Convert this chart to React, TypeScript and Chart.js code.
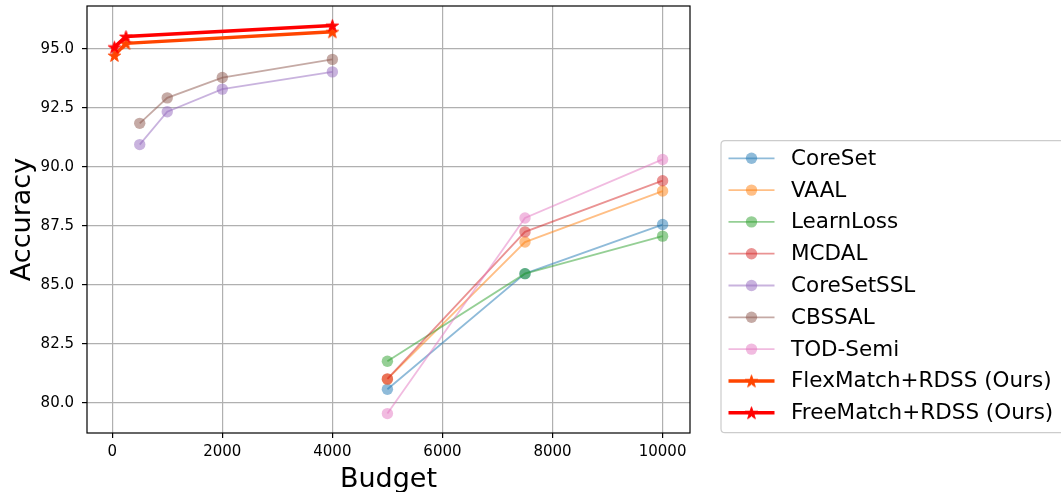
import React, { useEffect, useRef } from "react";
import { Chart, registerables } from "chart.js";

Chart.register(...registerables);

// ---------- data ----------
const seriesNames = [
  "CoreSet",
  "VAAL",
  "LearnLoss",
  "MCDAL",
  "CoreSetSSL",
  "CBSSAL",
  "TOD-Semi",
  "FlexMatch+RDSS (Ours)",
  "FreeMatch+RDSS (Ours)",
];
const alBudgets = [5000, 7500, 10000];
const sslBudgets = [500, 1000, 2000, 4000];
const oursBudgets = [40, 250, 4000];

const coreSet = [80.57, 85.47, 87.55];
const vaal = [81.0, 86.81, 88.97];
const learnLoss = [81.76, 85.47, 87.06];
const mcdal = [81.01, 87.24, 89.41];
const coreSetSSL = [90.94, 92.33, 93.29, 94.02];
const cbssal = [91.84, 92.92, 93.78, 94.55];
const todSemi = [79.54, 87.83, 90.31];
const flexMatch = [94.72, 95.23, 95.72];
const freeMatch = [95.07, 95.52, 95.99];

const xTicks = [0, 2000, 4000, 6000, 8000, 10000];
const yTicks = [80, 82.5, 85, 87.5, 90, 92.5, 95];

const seriesX = [alBudgets, alBudgets, alBudgets, alBudgets, sslBudgets, sslBudgets, alBudgets, oursBudgets, oursBudgets];
const seriesY = [coreSet, vaal, learnLoss, mcdal, coreSetSSL, cbssal, todSemi, flexMatch, freeMatch];

// ---------- styles ----------
const palette = ["#1f77b4", "#ff7f0e", "#2ca02c", "#d62728", "#9467bd", "#8c564b", "#e377c2", "#ff4500", "#ff0000"];
const isOurs = [false, false, false, false, false, false, false, true, true];
const FONT = "'DejaVu Sans', 'Liberation Sans', sans-serif";

function rgba(hex: string, a: number) {
  const n = parseInt(hex.slice(1), 16);
  return `rgba(${(n >> 16) & 255},${(n >> 8) & 255},${n & 255},${a})`;
}

function makeStar(color: string, outer: number) {
  const size = Math.ceil(outer * 2 + 4);
  const c = document.createElement("canvas");
  c.width = size;
  c.height = size;
  const g = c.getContext("2d")!;
  const cx = size / 2, cy = size / 2 + outer * 0.1;
  const inner = outer * 0.382;
  g.beginPath();
  for (let i = 0; i < 10; i++) {
    const r = i % 2 === 0 ? outer : inner;
    const ang = -Math.PI / 2 + (i * Math.PI) / 5;
    const px = cx + r * Math.cos(ang);
    const py = cy + r * Math.sin(ang);
    if (i === 0) g.moveTo(px, py);
    else g.lineTo(px, py);
  }
  g.closePath();
  g.fillStyle = color;
  g.fill();
  g.strokeStyle = color;
  g.lineWidth = 1;
  g.stroke();
  return c;
}

function padRange(values: number[], frac: number) {
  const mn = Math.min(...values), mx = Math.max(...values);
  const m = (mx - mn) * frac;
  return [mn - m, mx + m];
}

export default function App() {
  const ref = useRef<HTMLCanvasElement | null>(null);

  useEffect(() => {
    if (!ref.current) return;
    const stars = palette.map((c, i) => (isOurs[i] ? makeStar(c, 6.5) : null));

    const datasets = seriesNames.map((name, i) => {
      const ours = isOurs[i];
      const col = palette[i];
      return {
        label: name,
        data: seriesX[i].map((x, j) => ({ x, y: seriesY[i][j] })),
        borderColor: ours ? col : rgba(col, 0.5),
        backgroundColor: ours ? col : rgba(col, 0.5),
        borderWidth: ours ? 3.5 : 1.8,
        pointRadius: ours ? 6 : 5.7,
        pointBorderWidth: 0,
        pointBackgroundColor: ours ? col : rgba(col, 0.5),
        pointStyle: ours ? (stars[i] as any) : "circle",
        tension: 0,
        order: seriesNames.length - i,
      };
    });

    const [xMin, xMax] = padRange(seriesX.flat(), 0.05);
    const [yMin, yMax] = padRange(seriesY.flat(), 0.05);

    const overlay = {
      id: "overlay",
      afterDraw(chart: any) {
        const { ctx, chartArea: a } = chart;
        ctx.save();
        ctx.strokeStyle = "#000";
        ctx.lineWidth = 1.2;
        ctx.strokeRect(a.left, a.top, a.right - a.left, a.bottom - a.top);

        ctx.fillStyle = "#000";
        ctx.font = `27px ${FONT}`;
        ctx.textAlign = "center";
        ctx.textBaseline = "alphabetic";
        ctx.fillText("Budget", (a.left + a.right) / 2, 487);
        ctx.save();
        ctx.translate(29.5, (a.top + a.bottom) / 2);
        ctx.rotate(-Math.PI / 2);
        ctx.fillText("Accuracy", 0, 0);
        ctx.restore();

        // legend
        const bx = 721, by = 140.7, bw = 360, bh = 292, r = 4;
        ctx.beginPath();
        ctx.moveTo(bx + r, by);
        ctx.lineTo(bx + bw - r, by);
        ctx.quadraticCurveTo(bx + bw, by, bx + bw, by + r);
        ctx.lineTo(bx + bw, by + bh - r);
        ctx.quadraticCurveTo(bx + bw, by + bh, bx + bw - r, by + bh);
        ctx.lineTo(bx + r, by + bh);
        ctx.quadraticCurveTo(bx, by + bh, bx, by + bh - r);
        ctx.lineTo(bx, by + r);
        ctx.quadraticCurveTo(bx, by, bx + r, by);
        ctx.closePath();
        ctx.fillStyle = "rgba(255,255,255,0.8)";
        ctx.fill();
        ctx.strokeStyle = "#cccccc";
        ctx.lineWidth = 1.2;
        ctx.stroke();

        const ds = chart.data.datasets;
        ds.forEach((d: any, i: number) => {
          const y = 158.3 + i * 31.8;
          ctx.beginPath();
          ctx.moveTo(728.5, y);
          ctx.lineTo(774.5, y);
          ctx.strokeStyle = d.borderColor;
          ctx.lineWidth = d.borderWidth;
          ctx.stroke();
          if (typeof d.pointStyle === "object" && d.pointStyle) {
            const im = d.pointStyle as HTMLCanvasElement;
            ctx.drawImage(im, 751.5 - im.width / 2, y - im.height / 2);
          } else {
            ctx.beginPath();
            ctx.arc(751.5, y, d.pointRadius, 0, Math.PI * 2);
            ctx.fillStyle = d.pointBackgroundColor;
            ctx.fill();
          }
          ctx.fillStyle = "#000";
          ctx.font = `21.5px ${FONT}`;
          ctx.textAlign = "left";
          ctx.textBaseline = "middle";
          ctx.fillText(d.label, 791, y + 1);
        });
        ctx.restore();
      },
    };

    const chart = new Chart(ref.current, {
      type: "line",
      data: { datasets: datasets as any },
      options: {
        animation: false,
        responsive: false,
        devicePixelRatio: 1,
        layout: { padding: { left: 0, top: 4, right: 371, bottom: 0 } },
        plugins: { legend: { display: false }, tooltip: { enabled: false } },
        scales: {
          x: {
            type: "linear",
            min: xMin,
            max: xMax,
            afterBuildTicks: (s: any) => {
              s.ticks = xTicks.map((v) => ({ value: v }));
            },
            afterFit: (s: any) => {
              s.height = 59;
              s.paddingLeft = 0;
              s.paddingRight = 0;
            },
            grid: { color: "#b0b0b0", lineWidth: 1.2, tickLength: 5, tickColor: "#000", tickWidth: 1.2 },
            border: { display: false },
            ticks: {
              color: "#000",
              font: { family: FONT, size: 15 },
              padding: 5,
              maxRotation: 0,
              autoSkip: false,
              callback: (v: any) => String(v),
            },
          },
          y: {
            type: "linear",
            min: yMin,
            max: yMax,
            afterBuildTicks: (s: any) => {
              s.ticks = yTicks.map((v) => ({ value: v }));
            },
            afterFit: (s: any) => {
              s.width = 87;
              s.paddingTop = 0;
              s.paddingBottom = 0;
            },
            grid: { color: "#b0b0b0", lineWidth: 1.2, tickLength: 5, tickColor: "#000", tickWidth: 1.2 },
            border: { display: false },
            ticks: {
              color: "#000",
              font: { family: FONT, size: 15 },
              padding: 8,
              autoSkip: false,
              callback: (v: any) => Number(v).toFixed(1),
            },
          },
        },
      },
      plugins: [overlay],
    });
    return () => chart.destroy();
  }, []);

  return (
    <div style={{ position: "fixed", left: 0, top: 0, width: 1061, height: 492, background: "#fff" }}>
      <canvas ref={ref} width={1061} height={492} style={{ width: 1061, height: 492, display: "block" }} />
    </div>
  );
}
